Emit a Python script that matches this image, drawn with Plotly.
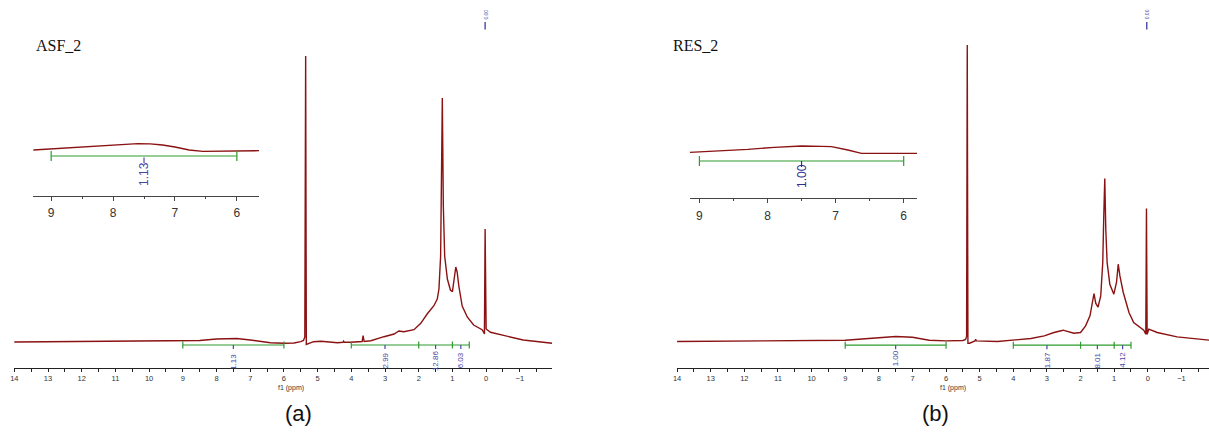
import plotly.graph_objects as go

W, H = 1209, 443

# ---------------- data ----------------
# Main spectrum (a) ASF_2 : chemical shift (ppm) and relative intensity
ASF_PPM = [14.0, 12.0, 10.0, 9.0, 8.5, 8.0, 7.6, 7.4, 7.0, 6.7, 6.4, 6.0, 5.7, 5.5, 5.42, 5.38,
           5.355, 5.335, 5.30, 5.20, 5.12, 4.9, 4.41, 4.25, 4.23, 4.21, 4.02, 3.68, 3.65, 3.62,
           3.42, 3.03, 2.73, 2.59, 2.44, 2.14, 1.94, 1.75, 1.55, 1.45, 1.40, 1.35, 1.32, 1.30,
           1.27, 1.23, 1.15, 1.06, 1.00, 0.94, 0.90, 0.86, 0.81, 0.71, 0.56, 0.37, 0.12, 0.07,
           0.05, 0.03, 0.01, 0.0, -0.13, -0.42, -1.1, -1.96]
ASF_INT = [0.0, 0.3, 0.6, 0.8, 1.5, 3.0, 3.8, 3.5, 2.0, 0.5, -0.8, -1.2, -1.0, 0.3, 1.5, 5.0,
           286.0, -2.5, -2.0, -0.5, 0.3, 0.7, -0.7, -0.3, 0.8, -0.3, -0.3, 0.5, 6.3, 0.5,
           1.3, 5.3, 8.0, 11.0, 10.3, 12.3, 18.7, 28.0, 36.3, 43.0, 53.0, 86.0, 170.0, 244.0,
           136.0, 86.0, 63.0, 52.0, 50.3, 63.0, 75.0, 70.0, 56.0, 36.0, 25.0, 17.0, 12.3, 9.7,
           8.0, 113.0, 13.0, 13.0, 9.7, 7.3, 2.0, -1.3]

# Main spectrum (b) RES_2
RES_PPM = [14.0, 12.0, 10.0, 9.0, 8.5, 8.0, 7.5, 7.0, 6.7, 6.5, 6.0, 5.7, 5.5, 5.42, 5.39,
           5.37, 5.35, 5.30, 5.20, 5.14, 5.12, 5.10, 4.47, 3.48, 3.08, 2.79, 2.52, 2.39, 2.20,
           2.0, 1.85, 1.72, 1.65, 1.60, 1.55, 1.48, 1.40, 1.34, 1.31, 1.28, 1.25, 1.21, 1.13,
           1.01, 0.93, 0.88, 0.83, 0.73, 0.56, 0.42, 0.12, 0.06, 0.04, 0.02, -0.03, -0.28,
           -0.87, -1.56, -1.85]
RES_INT = [0.0, 0.3, 0.8, 1.3, 2.5, 4.0, 5.0, 4.3, 2.5, 1.3, 0.6, 0.6, 1.0, 2.0, 5.0,
           296.6, -1.7, -1.7, 0.0, 0.6, 2.3, 0.6, 0.0, 3.0, 5.6, 9.0, 11.3, 10.3, 8.3,
           9.0, 15.6, 25.6, 39.0, 48.0, 38.3, 34.3, 45.6, 79.0, 125.6, 163.0, 112.3, 79.0, 57.3,
           47.3, 59.3, 77.3, 65.6, 49.0, 29.0, 19.0, 11.3, 7.3, 133.0, 7.3, 12.3, 9.0,
           4.6, 2.3, 1.3]

# Insets (expanded 9 - 6 ppm region)
ASF_INSET_PPM = [9.29, 8.8, 8.37, 8.0, 7.6, 7.4, 7.2, 7.0, 6.77, 6.55, 6.2, 5.64]
ASF_INSET_INT = [46.0, 47.8, 49.3, 51.0, 52.3, 52.2, 51.0, 49.0, 46.0, 44.7, 44.8, 45.3]
RES_INSET_PPM = [9.14, 8.7, 8.29, 7.9, 7.5, 7.2, 7.06, 6.82, 6.62, 6.3, 5.8]
RES_INSET_INT = [46.0, 47.5, 49.0, 51.0, 52.3, 52.0, 51.6, 48.3, 45.0, 45.0, 45.0]

# Integrals
AROM_RANGE = [9.0, 6.0]
ALIPH_EDGES = [4.0, 2.0, 1.0, 0.5]
INT_CENTERS = [3.0, 1.5, 0.75]
ASF_AROM_LABEL = "1.13"
RES_AROM_LABEL = "1.00"
ASF_ALIPH_LABELS = ["2.99", "12.86", "6.03"]
RES_ALIPH_LABELS = ["1.87", "8.01", "4.12"]
AROM_CENTER = 7.5
REF_PPM = 0.03
REF_LABEL = "0.00"

# ---------------- styling ----------------
RED = "#8b1212"
GREEN = "#2e9a2e"
BLUE = "#4646a8"
AXC = "#222222"


def px_dom(top, bottom):
    return [1 - bottom / H, 1 - top / H]


fig = go.Figure()

# axis geometry (pixel positions)
panels = {
    "a": dict(x0=10, x1=550, rng=[14.01, -1.96], ytop=5, yax=368, base=342),
    "b": dict(x0=675, x1=1209, rng=[14.01, -1.82], ytop=5, yax=367.5, base=341.5),
}

layout = dict(width=W, height=H, margin=dict(l=0, r=0, t=0, b=0),
              paper_bgcolor="white", plot_bgcolor="rgba(0,0,0,0)", showlegend=False)

annotations = []


def main_axis(idx, p):
    xa = "xaxis" if idx == 1 else f"xaxis{idx}"
    ya = "yaxis" if idx == 1 else f"yaxis{idx}"
    layout[xa] = dict(domain=[p["x0"] / W, p["x1"] / W], range=p["rng"], anchor="y" if idx == 1 else f"y{idx}",
                      showline=True, linecolor=AXC, linewidth=1, ticks="outside", ticklen=3, tickwidth=1,
                      tickcolor=AXC, dtick=1, tick0=0, showgrid=False, zeroline=False,
                      tickfont=dict(family="Liberation Sans, Arial", size=7.5, color="#333"),
                      minor=dict(dtick=0.5, ticklen=3, tickcolor=AXC, ticks="outside", showgrid=False),
                      ticklabelstandoff=0)
    bottom = -(p["yax"] - p["base"])
    top = p["base"] - p["ytop"]
    layout[ya] = dict(domain=px_dom(p["ytop"], p["yax"]), range=[bottom, top], visible=False,
                      anchor="x" if idx == 1 else f"x{idx}")


def inset_axis(idx, x0, x1, rng, top_px, ax_px):
    xa = f"xaxis{idx}"
    ya = f"yaxis{idx}"
    layout[xa] = dict(domain=[x0 / W, x1 / W], range=rng, anchor=f"y{idx}",
                      showline=True, linecolor="#444", linewidth=1, ticks="outside", ticklen=4, tickwidth=1,
                      tickcolor="#444", dtick=1, tick0=0, showgrid=False, zeroline=False,
                      tickfont=dict(family="Liberation Sans, Arial", size=12, color="#333"),
                      minor=dict(dtick=0.5, ticklen=2, tickcolor="#444", ticks="outside", showgrid=False),
                      ticklabelstandoff=2)
    layout[ya] = dict(domain=px_dom(top_px, ax_px), range=[0, ax_px - top_px], visible=False,
                      anchor=f"x{idx}")


main_axis(1, panels["a"])
main_axis(2, panels["b"])
inset_axis(3, 29.3, 256, [9.29, 5.64], 100, 196)
inset_axis(4, 688, 916, [9.142, 5.805], 100, 198.3)


def add_spec(x, y, xa, ya, width=1.4):
    fig.add_trace(go.Scatter(x=x, y=y, mode="lines", line=dict(color=RED, width=width),
                             xaxis=xa, yaxis=ya, hoverinfo="skip"))


add_spec(ASF_PPM, ASF_INT, "x", "y")
add_spec(RES_PPM, RES_INT, "x2", "y2")
add_spec(ASF_INSET_PPM, ASF_INSET_INT, "x3", "y3", 1.3)
add_spec(RES_INSET_PPM, RES_INSET_INT, "x4", "y4", 1.3)


def integral(xs, level, xa, ya, msize=5):
    fig.add_trace(go.Scatter(x=xs, y=[level] * len(xs), mode="lines+markers",
                             line=dict(color=GREEN, width=1.2),
                             marker=dict(symbol="line-ns-open", size=msize, color=GREEN, line=dict(width=1.2, color=GREEN)),
                             xaxis=xa, yaxis=ya, hoverinfo="skip"))


def int_label(xc, level, text, xa, ya, tick_len, text_off, size, color=BLUE):
    fig.add_trace(go.Scatter(x=[xc, xc], y=[level, level - tick_len], mode="lines",
                             line=dict(color=color, width=1.2), xaxis=xa, yaxis=ya, hoverinfo="skip"))
    annotations.append(dict(x=xc, y=level - text_off, xref=xa, yref=ya, text=text, showarrow=False,
                            textangle=-90, font=dict(family="Liberation Sans, Arial", size=size, color=color)))


# main (a)
lvl_a = -3
integral(AROM_RANGE, lvl_a, "x", "y")
integral(ALIPH_EDGES, lvl_a, "x", "y")
int_label(AROM_CENTER, lvl_a, ASF_AROM_LABEL, "x", "y", 4, 16.5, 8)
for c, t in zip(INT_CENTERS, ASF_ALIPH_LABELS):
    int_label(c, lvl_a, t, "x", "y", 4, 15.5, 8)

# main (b)
lvl_b = -3.7
integral(AROM_RANGE, lvl_b, "x2", "y2")
integral(ALIPH_EDGES, lvl_b, "x2", "y2")
int_label(AROM_CENTER, lvl_b, RES_AROM_LABEL, "x2", "y2", 4, 13.5, 8)
for c, t in zip(INT_CENTERS, RES_ALIPH_LABELS):
    int_label(c, lvl_b, t, "x2", "y2", 4, 15, 8)

# insets
integral(AROM_RANGE, 40, "x3", "y3", 7)
int_label(AROM_CENTER, 38.5, ASF_AROM_LABEL, "x3", "y3", 5.5, 16.5, 12)
integral(AROM_RANGE, 37.3, "x4", "y4", 7)
int_label(AROM_CENTER, 37.3, RES_AROM_LABEL, "x4", "y4", 6, 15.5, 12, color="#2e2e8e")

# reference (TMS) peak label at top
for xa, ya, p in (("x", "y", panels["a"]), ("x2", "y2", panels["b"])):
    base = p["base"]
    fig.add_trace(go.Scatter(x=[REF_PPM, REF_PPM], y=[base - 22, base - 29.5], mode="lines",
                             line=dict(color="#2a2aa0", width=1.2), xaxis=xa, yaxis=ya, hoverinfo="skip"))
    annotations.append(dict(x=REF_PPM, y=base - 14.5, xref=xa, yref=ya, text=REF_LABEL, showarrow=False,
                            textangle=-90, font=dict(family="Liberation Sans, Arial", size=5, color=BLUE)))
    annotations.append(dict(x=5.8, y=1 - 392.5 / H, xref=xa, yref="paper", text="f1 (ppm)", showarrow=False,
                            borderpad=0, font=dict(family="Liberation Sans, Arial", size=7, color="#333")))

# sample names and panel labels
annotations.append(dict(x=30 / W, y=1 - 35 / H, xref="paper", yref="paper", xanchor="left", text="ASF_2",
                        showarrow=False, font=dict(family="Liberation Serif, Times New Roman", size=16, color="#111")))
annotations.append(dict(x=669 / W, y=1 - 35 / H, xref="paper", yref="paper", xanchor="left", text="RES_2",
                        showarrow=False, font=dict(family="Liberation Serif, Times New Roman", size=16, color="#111")))
annotations.append(dict(x=280 / W, y=1 - 428 / H, xref="paper", yref="paper", text="(a)",
                        showarrow=False, font=dict(family="Liberation Sans, Arial", size=22, color="#111")))
annotations.append(dict(x=950 / W, y=1 - 428 / H, xref="paper", yref="paper", text="(b)",
                        showarrow=False, font=dict(family="Liberation Sans, Arial", size=22, color="#111")))

layout["annotations"] = annotations
fig.update_layout(**layout)
fig.write_html("out.html")
